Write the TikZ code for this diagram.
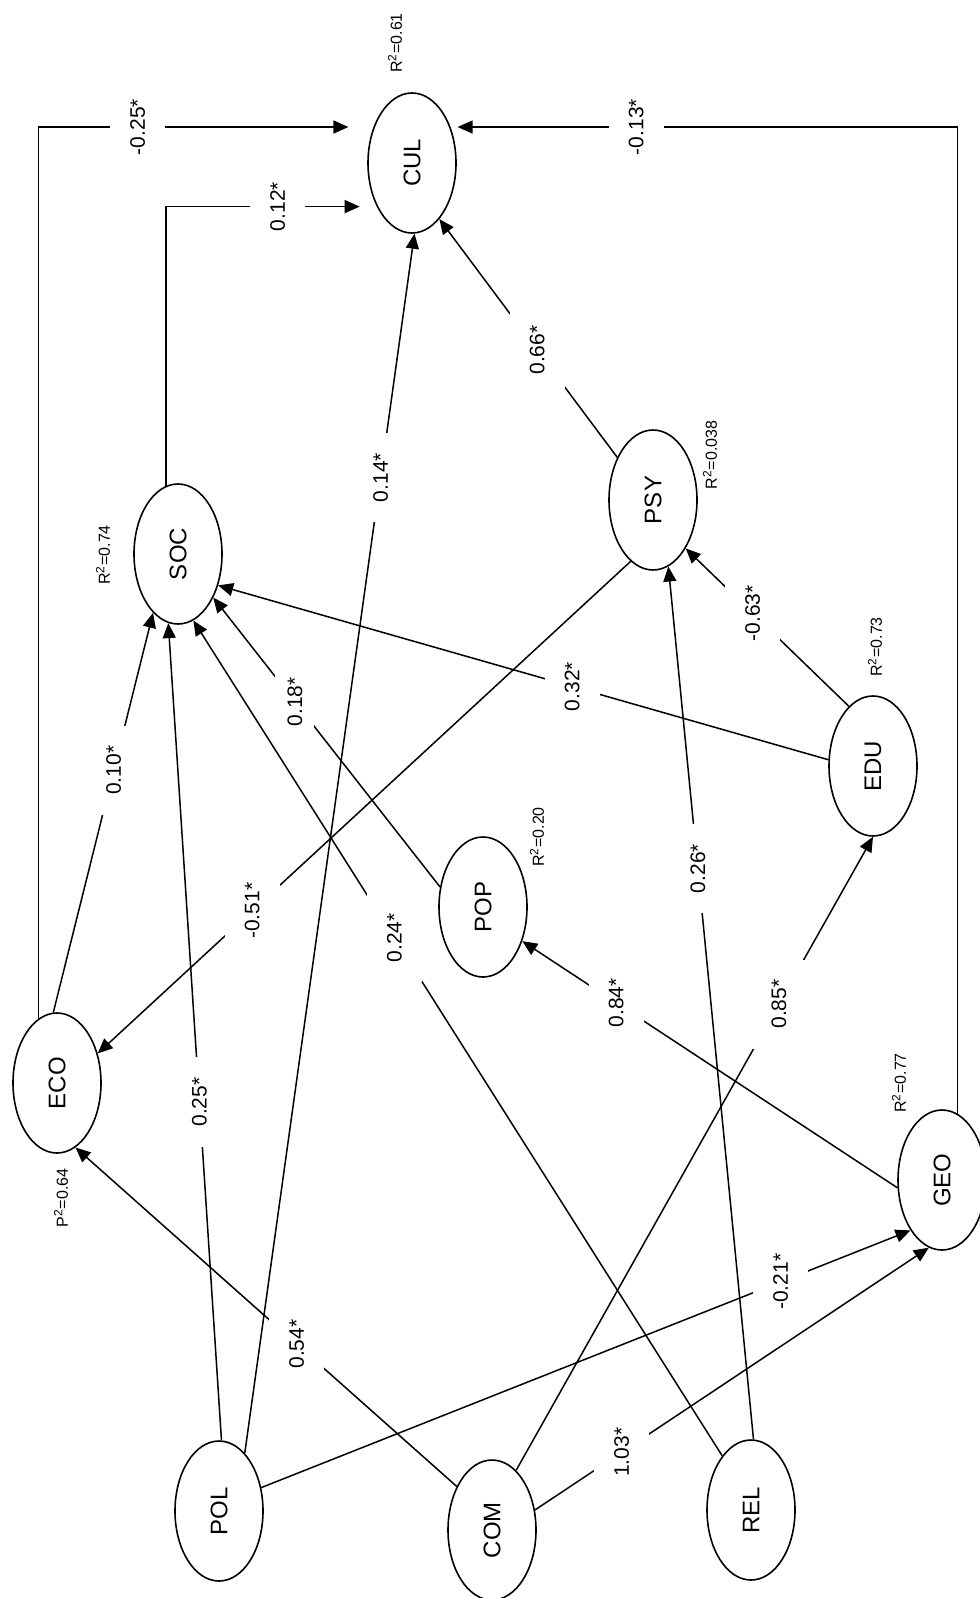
\documentclass[tikz,border=0pt]{standalone}
\usepackage{fontspec}
\setmainfont{Liberation Sans}
\usetikzlibrary{shapes.geometric,arrows.meta}

\begin{document}
\begin{tikzpicture}[x=0.5pt,y=-0.5pt,
    var/.style={draw,ellipse,line width=0.8pt,minimum width=44pt,minimum height=70pt,inner sep=0pt,font=\fontsize{12}{14}\selectfont},
    coef/.style={fill=white,rotate=90,inner sep=10pt,font=\fontsize{10.5}{12}\selectfont},
    rsq/.style={rotate=90,inner sep=0pt,font=\fontsize{8}{9}\selectfont},
    link/.style={line width=0.75pt,-{Triangle[length=7.5pt,width=6.5pt]}}]
      \useasboundingbox (0,0) rectangle (979,1598);
      % latent variables
      \node[var] (CUL) at (412,163)  {\rotatebox{90}{CUL}};
      \node[var] (SOC) at (178,554)  {\rotatebox{90}{SOC}};
      \node[var] (PSY) at (653,500)  {\rotatebox{90}{PSY}};
      \node[var] (EDU) at (873,766)  {\rotatebox{90}{EDU}};
      \node[var] (POP) at (483,907)  {\rotatebox{90}{POP}};
      \node[var] (ECO) at (57,1083)  {\rotatebox{90}{ECO}};
      \node[var] (GEO) at (942,1180) {\rotatebox{90}{GEO}};
      \node[var] (POL) at (219,1511) {\rotatebox{90}{POL}};
      \node[var] (COM) at (492,1530) {\rotatebox{90}{COM}};
      \node[var] (REL) at (751,1510) {\rotatebox{90}{REL}};
      % explained variance
      \node[rsq] (rCUL) at (395,43)   {R\textsuperscript{2}=0.61};
      \node[rsq] (rSOC) at (103,555)  {R\textsuperscript{2}=0.74};
      \node[rsq] (rPSY) at (710,455)  {R\textsuperscript{2}=0.038};
      \node[rsq] (rEDU) at (875,647)  {R\textsuperscript{2}=0.73};
      \node[rsq] (rPOP) at (537,837)  {R\textsuperscript{2}=0.20};
      \node[rsq] (rECO) at (61,1198)  {P\textsuperscript{2}=0.64};
      \node[rsq] (rGEO) at (899,1083) {R\textsuperscript{2}=0.77};
      % paths
      \draw[link,shorten >=12.5pt] (ECO.106) |- node[coef,pos=0.648]{-0.25*} (CUL.137);
      \draw[link,shorten >=8.5pt] (SOC.100) |- node[coef,pos=0.765]{0.12*} (CUL.231);
      \draw[link,shorten >=3.5pt] (GEO.77) |- node[coef,pos=0.817]{-0.13*} (CUL.43);
      \draw[link] (POL.66) -- node[coef,pos=0.80]{0.14*} (CUL.-88);
      \draw[link] (PSY.130) -- node[coef,pos=0.45]{0.66*} (CUL.-64);
      \draw[link] (EDU.112) -- node[coef,pos=0.59]{-0.63*} (PSY.-56);
      \draw[link] (EDU.172) -- node[coef,pos=0.42]{0.32*} (SOC.-38);
      \draw[link] (REL.88) -- node[coef,pos=0.654]{0.26*} (PSY.-77);
      \draw[link] (PSY.-110) -- node[coef,pos=0.71]{-0.51*} (ECO.36);
      \draw[link] (ECO.93) -- node[coef,pos=0.606]{0.10*} (SOC.-113);
      \draw[link] (POL.88) -- node[coef,pos=0.414]{0.25*} (SOC.-98);
      \draw[link] (REL.118) -- node[coef,pos=0.62]{0.24*} (SOC.-77);
      \draw[link] (POP.155) -- node[coef,inner ysep=6pt,pos=0.64]{0.18*} (SOC.-51);
      \draw[link] (GEO.190) -- node[coef,pos=0.75]{0.84*} (POP.-41);
      \draw[link] (COM.68) -- node[coef,pos=0.736]{0.85*} (EDU.-90);
      \draw[link] (POL.29) -- node[coef,pos=0.80]{-0.21*} (GEO.-122);
      \draw[link] (COM.25) -- node[coef,pos=0.22]{1.03*} (GEO.-101);
      \draw[link] (COM.129) -- node[coef,pos=0.42]{0.54*} (ECO.-74);
    \end{tikzpicture}
\end{document}
